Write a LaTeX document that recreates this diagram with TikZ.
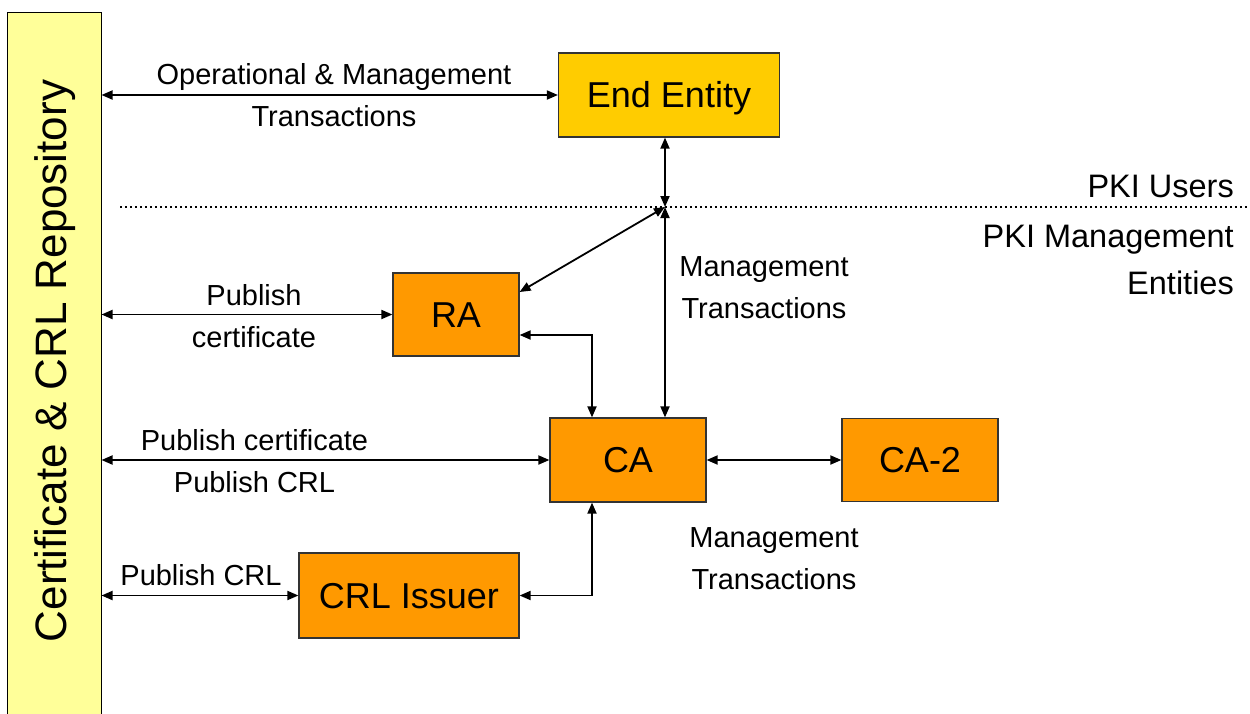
\documentclass[tikz,border=0pt]{standalone}
\usepackage{fontspec}
\setmainfont{Liberation Sans}
\usetikzlibrary{arrows.meta}
\definecolor{repofill}{HTML}{FFFF99}
\definecolor{eefill}{HTML}{FFCC00}
\definecolor{boxfill}{HTML}{FF9900}
\definecolor{boxline}{HTML}{333333}
\tikzset{
  entity/.style={draw=boxline, line width=1.2pt, fill=boxfill, inner sep=0pt,
                 text height=25.8pt, text depth=0pt,
                 font=\fontsize{36}{40}\selectfont},
  lbl/.style={inner sep=0pt, align=center, font=\fontsize{29}{42}\selectfont},
  side/.style={inner sep=0pt, align=right, anchor=east, font=\fontsize{32.5}{47}\selectfont},
  tip/.tip={Triangle[length=11pt,width=9pt]},
  link/.style={line width=1.8pt, tip-tip},
}
\begin{document}
\begin{tikzpicture}[x=1pt,y=-1pt]
  \useasboundingbox (0,0) rectangle (1250,713);
  \clip (0,0) rectangle (1250,713);

  % repository bar along the left edge
  \node[draw=black, line width=1pt, fill=repofill, minimum width=94pt,
        minimum height=712pt, inner sep=0pt] (repo) at (54,368) {};
  \node[rotate=90, inner sep=0pt, font=\fontsize{44}{48}\selectfont] (repolabel)
        at (55,361) {Certificate \& CRL Repository};

  % boundary between users and management entities
  \coordinate (dotL) at (120,207);
  \coordinate (dotR) at (1250,207);
  \draw[line width=2pt, dash pattern=on 2pt off 3pt] (dotL) -- (dotR);
  \node[side] (users) at (1234,186) {PKI Users};
  \node[side] (mgmt) at (1234,259.5) {PKI Management\\Entities};

  % entities
  \node[entity, fill=eefill, minimum width=221pt, minimum height=84pt] (ee) at (669,95) {End Entity};
  \node[entity, minimum width=126pt, minimum height=83pt] (ra) at (456,314.5) {RA};
  \node[entity, minimum width=156pt, minimum height=84pt] (ca) at (628,460) {CA};
  \node[entity, minimum width=156pt, minimum height=83pt] (ca2) at (920,460) {CA-2};
  \node[entity, minimum width=220pt, minimum height=85pt] (crl) at (409,595.5) {CRL Issuer};

  % junction of the management transactions
  \coordinate (j) at (665,207);
  \draw[link] (ee.south -| j) -- (j);
  \draw[link] ([xshift=37pt]ca.north) -- (j);
  \draw[link] ([yshift=22.5pt]ra.east) -- (j);
  \draw[link] ([yshift=-20.5pt]ra.east) -| ([xshift=-36pt]ca.north);
  \draw[link] (crl.east) -| ([xshift=-36pt]ca.south);
  \draw[link] (ca.east) -- (ca2.west);

  % links to the repository
  \draw[link] (repo.east |- ee) -- (ee.west);
  \draw[link] (repo.east |- ra) -- (ra.west);
  \draw[link] (repo.east |- ca) -- (ca.west);
  \draw[link] (repo.east |- crl) -- (crl.west);

  % labels
  \node[lbl] (l1) at (334,95) {Operational \& Management\\Transactions};
  \node[lbl] (l2) at (254,316) {Publish\\certificate};
  \node[lbl] (l3) at (254.5,461) {Publish certificate\\Publish CRL};
  \node[lbl] (l4) at (201,575) {Publish CRL};
  \node[lbl] (l5) at (764,288) {Management\\Transactions};
  \node[lbl] (l6) at (774,559) {Management\\Transactions};
\end{tikzpicture}
\end{document}
